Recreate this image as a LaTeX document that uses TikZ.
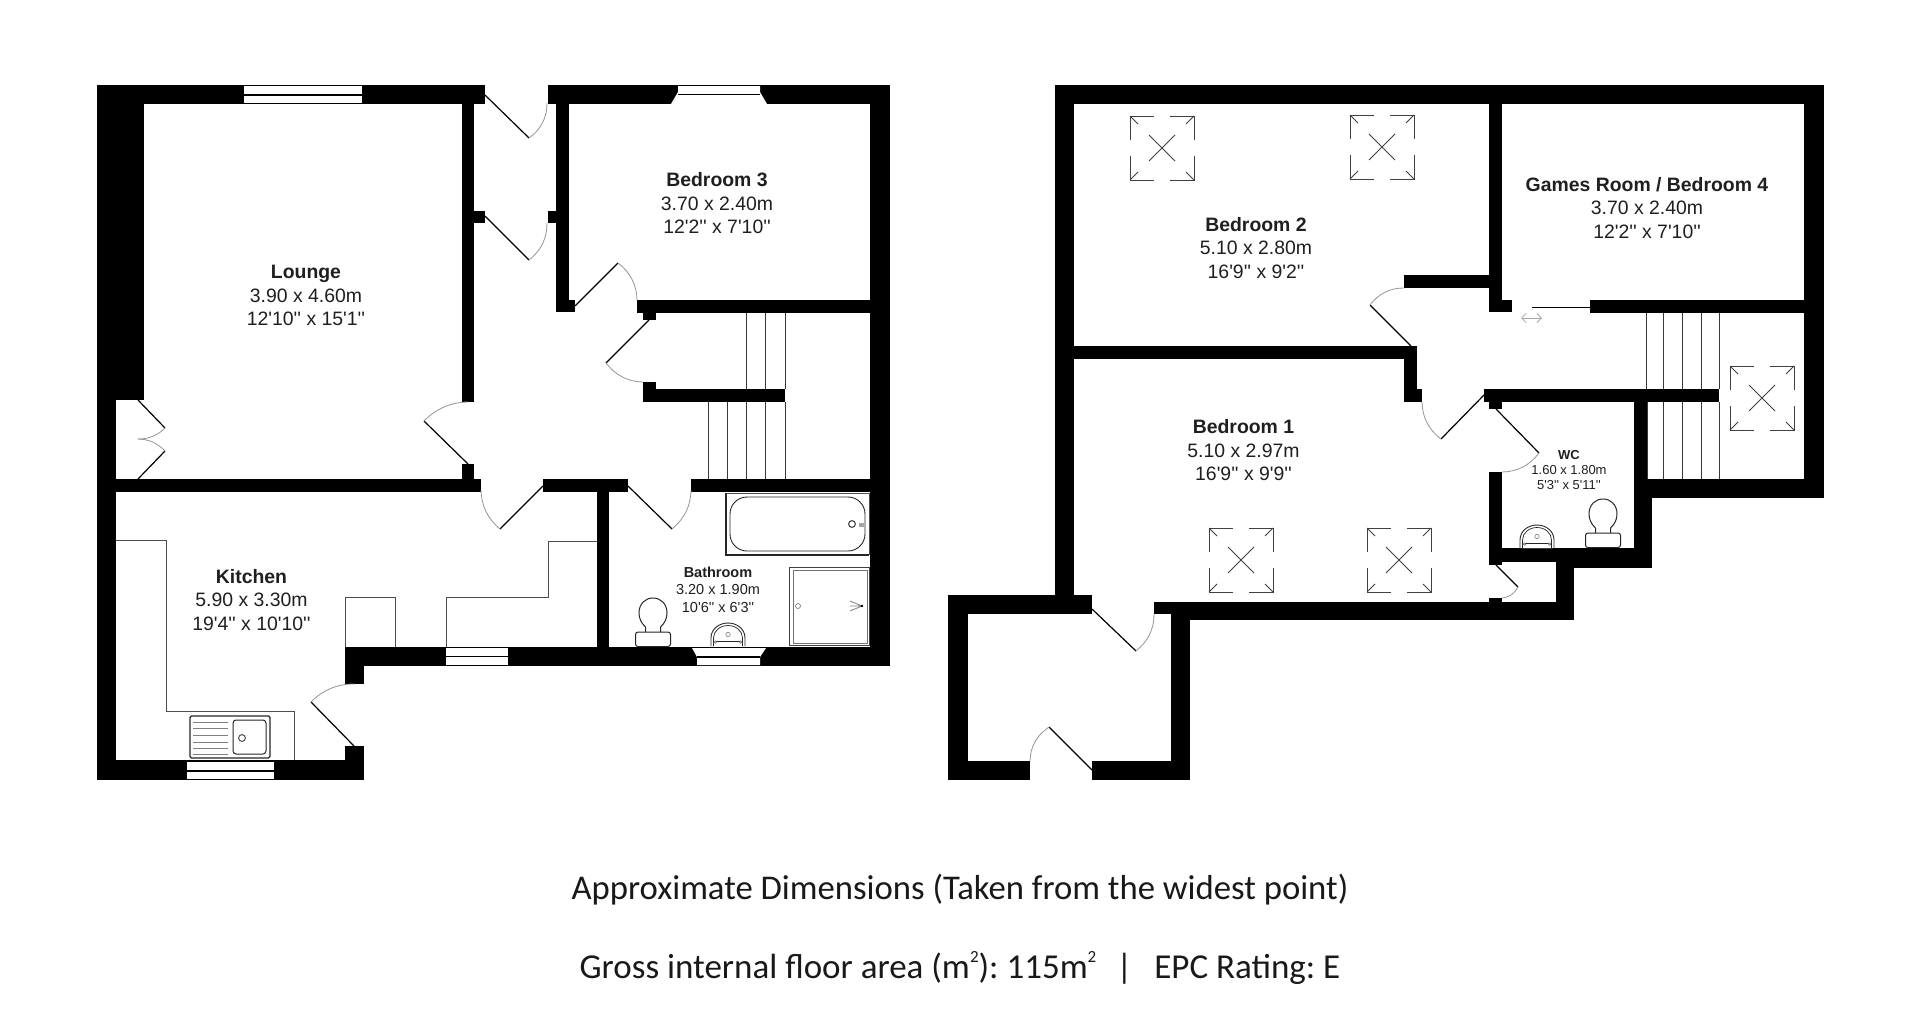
\documentclass[tikz,border=0pt]{standalone}
\usepackage{fontspec}
\usetikzlibrary{calc,arrows.meta}
\newfontfamily\planfont{Liberation Sans}
\newfontfamily\capfont{Carlito}
\tikzset{
  wallfill/.style={fill=black},
  leaf/.style={draw=black,line width=1.2pt},
  swing/.style={draw=black!42,line width=0.8pt},
  fitting/.style={draw=black!70,line width=0.9pt},
  tread/.style={draw=black!78,line width=1pt},
  sanitary/.style={draw=black!85,line width=0.9pt,fill=white},
  skyline/.style={draw=black!75,line width=0.9pt},
  roomlabel/.style={align=center,inner sep=0pt,text=black!88,font=\planfont\fontsize{19.4}{23.5}\selectfont},
  bathlabel/.style={align=center,inner sep=0pt,text=black!88,font=\planfont\fontsize{14.5}{17.5}\selectfont},
  wclabel/.style={align=center,inner sep=0pt,text=black!88,font=\planfont\fontsize{13}{15}\selectfont},
  caption/.style={inner sep=0pt,text=black!90,font=\capfont\fontsize{34.7}{40}\selectfont\frenchspacing},
  captionb/.style={inner sep=0pt,text=black!90,font=\capfont\fontsize{35}{40}\selectfont\frenchspacing}
}
\newcommand{\wall}[4]{\fill[wallfill] (#1,#2) rectangle (#3,#4);}
% hinge, tip, jamb end of the swing
\newcommand{\doorswing}[3]{%
  \draw[leaf] #1 -- #2;
  \draw[swing] #2 .. controls ($0.724*#2+0.391*#3-0.115*#1$) and ($0.724*#3+0.391*#2-0.115*#1$) .. #3;}
\newcommand{\hwindow}[5]{% x1 y1 x2 y2 liney
  \fill[white] (#1,#2) rectangle (#3,#4);
  \draw[black,line width=1.1pt] (#1,#5) -- (#3,#5);}
\newcommand{\skylight}[2]{%
  \begin{scope}[shift={(#1,#2)}]
    \draw[skyline] (0,24) -- (0,0) -- (24,0) (40,0) -- (64,0) -- (64,24)
                   (64,40) -- (64,64) -- (40,64) (24,64) -- (0,64) -- (0,40);
    \draw[skyline] (0,0) -- (8,8) (64,0) -- (56,8) (64,64) -- (56,56) (0,64) -- (8,56);
    \draw[skyline,line width=0.8pt] (19,19) -- (45,45) (45,19) -- (19,45);
  \end{scope}}
\newcommand{\toilet}[2]{%
  \begin{scope}[shift={(#1,#2)}]
    \draw[sanitary,line width=1pt] (-7.5,1) -- (-7.5,-5) .. controls (-12,-9) and (-14,-14) .. (-14,-19)
      .. controls (-14,-28) and (-8,-34) .. (0,-34) .. controls (8,-34) and (14,-28) .. (14,-19)
      .. controls (14,-14) and (12,-9) .. (7.5,-5) -- (7.5,1);
    \draw[sanitary,line width=1pt,rounded corners=2.5pt] (-17.5,0) rectangle (17.5,14.5);
  \end{scope}}
\newcommand{\basin}[2]{%
  \begin{scope}[shift={(#1,#2)}]
    \draw[sanitary] (-17,0) -- (-17,-8) .. controls (-17,-17) and (-9,-23) .. (0,-23)
      .. controls (9,-23) and (17,-17) .. (17,-8) -- (17,0);
    \draw[sanitary,line width=0.7pt] (-14.5,0) -- (-14.5,-8) .. controls (-14.5,-15) and (-8,-20.5) .. (0,-20.5)
      .. controls (8,-20.5) and (14.5,-15) .. (14.5,-8) -- (14.5,0);
    \draw[black!85,line width=0.8pt] (-12,-4.5) -- (12,-4.5);
    \draw[black!45,line width=0.7pt] (0,-11.5) circle[radius=2.2];
    \draw[black!60,line width=0.6pt] (-12.5,-4) circle[radius=1.3] (12.5,-4) circle[radius=1.3];
  \end{scope}}
\newcommand{\capsup}{\raisebox{0.45em}{\fontsize{17}{20}\selectfont 2}}
\begin{document}
\begin{tikzpicture}[x=1pt,y=-1pt]
\useasboundingbox (0,0) rectangle (1920,1026);
\fill[white] (0,0) rectangle (1920,1026);

% ===== Ground floor walls =====
\wall{97}{85}{485}{104}
\wall{97}{85}{144}{400}
\wall{97}{400}{116}{780}
\wall{462}{104}{474}{402}
\wall{474}{211}{485}{223}
\wall{462}{464}{474}{480}
\wall{116}{479}{481}{492}
\wall{97}{760}{364}{780}
\wall{345}{746}{364}{780}
\wall{345}{647}{364}{684}
\wall{345}{647}{890}{666}
\wall{548}{85}{890}{104}
\wall{870}{85}{890}{666}
\wall{556}{104}{569}{312}
\wall{548}{211}{556}{223}
\wall{556}{300}{575}{312}
\wall{637}{300}{870}{313}
\wall{643}{313}{656}{320}
\wall{643}{382}{656}{402}
\wall{643}{389}{785}{402}
\wall{543}{479}{628}{492}
\wall{691}{479}{870}{492}
\wall{597}{492}{609}{647}

% Windows, ground floor
\hwindow{244}{86}{362}{103}{95}
\fill[white] (678,86) -- (760,86) -- (760,92) -- (767,104) -- (671,104) -- (678,92) -- cycle;
\draw[black,line width=1.1pt] (678,94.5) -- (760,94.5);
\hwindow{187}{762}{274}{779}{771}
\hwindow{446}{648}{508}{665}{656.5}
\fill[white] (692,648) -- (766,648) -- (760,657) -- (760,665) -- (697,665) -- (697,657) -- cycle;
\draw[black,line width=1.1pt] (697,657) -- (760,657);

% Doors, ground floor
\doorswing{(138,400)}{(165,428)}{(138,439)}
\doorswing{(138,479)}{(165,451)}{(138,439)}
\doorswing{(468,464)}{(424,421)}{(468,402)}
\doorswing{(485,95)}{(529,138)}{(547,103)}
\doorswing{(485,216)}{(529,260)}{(547,223)}
\doorswing{(575,306)}{(618,263)}{(637,300)}
\doorswing{(649,320)}{(606,363)}{(643,382)}
\doorswing{(543,486)}{(500,529)}{(481,490)}
\doorswing{(628,486)}{(672,529)}{(691,490)}
\doorswing{(354,746)}{(311,702)}{(354,684)}

% Stairs, ground floor
\foreach \sx in {746,765,785} {\draw[tread] (\sx,313) -- (\sx,389);}
\foreach \sx in {708,727,746,765,785} {\draw[tread] (\sx,402) -- (\sx,479);}

% Kitchen fittings
\draw[fitting] (116,540) -- (166,540) -- (166,711) -- (294,711) -- (294,760);
\draw[fitting] (345,647) -- (345,597) -- (395,597) -- (395,647);
\draw[fitting] (446,647) -- (446,597) -- (548,597) -- (548,541) -- (597,541);
\draw[black!85,line width=1.1pt,rounded corners=1.5pt] (190,716) rectangle (270,758);
\draw[black!85,line width=1pt,rounded corners=3pt] (233,720) rectangle (266,754);
\draw[black!75,line width=0.9pt] (242,738) circle[radius=3.4];
\foreach \dy in {722,728,735,742,748,754} {\draw[black!50,line width=0.9pt] (193,\dy) -- (228,\dy);}

% Bathroom fittings
\draw[black!85,line width=1.1pt] (726,493) -- (726,555) -- (869,555);
\draw[black!70,line width=0.8pt] (726,493) -- (869,493) -- (869,555);
\draw[black!85,line width=0.9pt,rounded corners=17pt] (730,497) rectangle (865,551);
\draw[black!80,line width=1pt] (852,524) circle[radius=3.4];
\fill[black!35] (859,522.5) rectangle (863.5,526.5);
\draw[black!75,line width=1pt] (789,567) rectangle (869,645);
\draw[black!55,line width=0.8pt] (793,570) rectangle (867,643);
\draw[black!50,line width=0.7pt] (798,606) circle[radius=2.5];
\draw[black!50,line width=0.8pt] (850,601) -- (862,606) -- (850,611) (850,606) -- (862,606);
\fill[black] (862,606) circle[radius=1.3];
\toilet{653}{632}
\basin{728}{646}

% ===== First floor walls =====
\wall{1055}{85}{1824}{104}
\wall{1055}{85}{1074}{601}
\wall{1804}{85}{1824}{498}
\wall{1489}{104}{1502}{312}
\wall{1502}{300}{1512}{312}
\wall{1404}{275}{1489}{288}
\wall{1590}{300}{1804}{313}
\wall{1074}{346}{1417}{359}
\wall{1404}{346}{1417}{402}
\wall{1417}{389}{1422}{402}
\wall{1484}{389}{1719}{402}
\wall{1489}{402}{1502}{409}
\wall{1489}{472}{1502}{565}
\wall{1634}{402}{1647}{568}
\wall{1647}{479}{1824}{498}
\wall{1647}{479}{1652}{568}
\wall{1502}{548}{1556}{562}
\wall{1556}{548}{1652}{568}
\wall{1556}{548}{1574}{620}
\wall{1489}{598}{1502}{603}
\wall{1154}{602}{1574}{620}
\wall{948}{595}{1092}{614}
\wall{948}{595}{968}{780}
\wall{948}{761}{1030}{780}
\wall{1092}{761}{1190}{780}
\wall{1171}{602}{1190}{780}
\fill[white] (1154,614) rectangle (1171,620);

% Doors, first floor
\doorswing{(1411,346)}{(1370,305)}{(1404,288)}
\doorswing{(1484,395)}{(1441,439)}{(1422,402)}
\doorswing{(1496,409)}{(1539,453)}{(1502,472)}
\doorswing{(1496,565)}{(1518,587)}{(1502,598)}
\doorswing{(1092,609)}{(1136,651)}{(1154,614)}
\doorswing{(1092,770)}{(1049,727)}{(1030,761)}
\draw[black,line width=1pt] (1532,307) -- (1590,307);
\draw[black!35,line width=0.8pt,{Straight Barb[length=4.5pt,width=9pt]}-{Straight Barb[length=4.5pt,width=9pt]}] (1521,318) -- (1542,318);

% Stairs, first floor
\foreach \sx in {1646,1663,1682,1701,1719} {\draw[tread] (\sx,313) -- (\sx,389);}
\foreach \sx in {1647,1663,1682,1701,1719} {\draw[tread] (\sx,402) -- (\sx,479);}

% Skylights
\skylight{1130}{116}
\skylight{1350}{115}
\skylight{1730}{366}
\skylight{1209}{528}
\skylight{1367}{528}

% WC fittings
\toilet{1603}{533}
\basin{1537}{548}

% ===== Labels =====
\node[roomlabel] (lounge) at (306,295.5) {{\bfseries Lounge}\\3.90 x 4.60m\\12'10'' x 15'1''};
\node[roomlabel] (bed3) at (717,203.5) {{\bfseries Bedroom 3}\\3.70 x 2.40m\\12'2'' x 7'10''};
\node[roomlabel] (kitchen) at (251.5,600) {{\bfseries Kitchen}\\5.90 x 3.30m\\19'4'' x 10'10''};
\node[bathlabel] (bath) at (718,589.5) {{\bfseries Bathroom}\\3.20 x 1.90m\\10'6'' x 6'3''};
\node[roomlabel] (bed2) at (1256,248) {{\bfseries Bedroom 2}\\5.10 x 2.80m\\16'9'' x 9'2''};
\node[roomlabel] (games) at (1647,208) {{\bfseries Games Room / Bedroom 4}\\3.70 x 2.40m\\12'2'' x 7'10''};
\node[roomlabel] (bed1) at (1243.5,450.5) {{\bfseries Bedroom 1}\\5.10 x 2.97m\\16'9'' x 9'9''};
\node[wclabel] (wc) at (1569,470) {{\bfseries WC}\\1.60 x 1.80m\\5'3'' x 5'11''};

\node[caption] (cap1) at (960,890) {Approximate Dimensions (Taken from the widest point)};
\node[captionb] (cap2) at (960,968) {Gross internal floor area (m\capsup): 115m\capsup\hspace{20pt}|\hspace{22pt}EPC Rating: E};
\end{tikzpicture}
\end{document}
